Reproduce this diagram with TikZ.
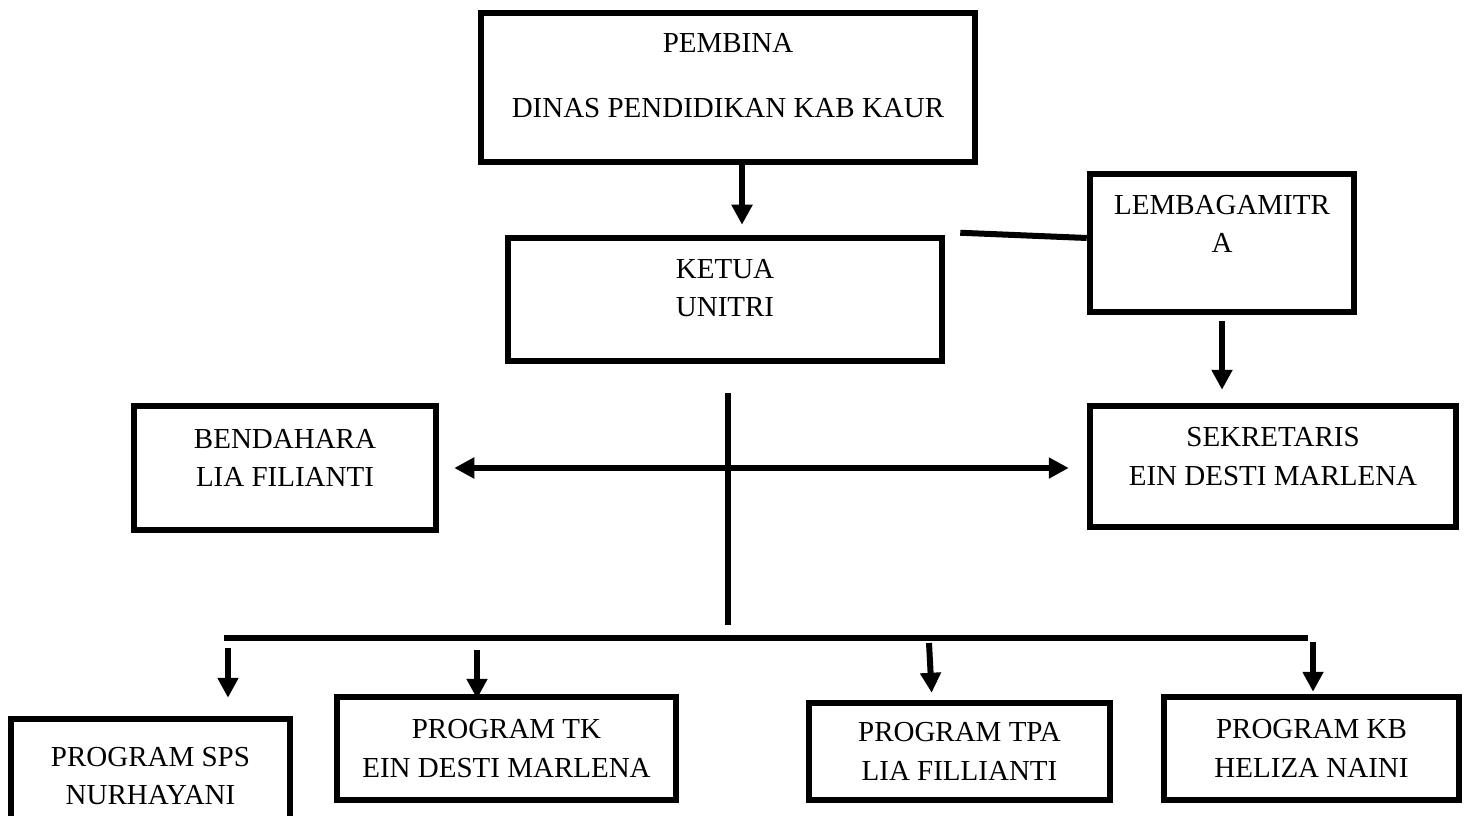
\documentclass[tikz,border=0pt]{standalone}
\usepackage{fontspec}
\setmainfont{Liberation Serif}
\usetikzlibrary{arrows.meta}

\begin{document}
\begin{tikzpicture}[
    box/.style={draw=black,line width=0.13cm,inner sep=0pt},
    txt/.style={align=center,inner sep=0pt,font=\fontsize{16.5}{22}\selectfont},
    conn/.style={black,line width=0.12cm},
    arr/.style={conn,-{Triangle[length=0.4cm,width=0.4cm]}},
    arrboth/.style={conn,{Triangle[length=0.4cm,width=0.4cm]}-{Triangle[length=0.4cm,width=0.4cm]}}
]
            \path[use as bounding box,fill=white] (0,0) rectangle (29.34,-16.32);

            % boxes
            \node[box,minimum width=9.88cm,minimum height=2.98cm] (pembina) at (14.56,-1.75) {};
            \node[txt] (pembinatxt) at ([yshift=0.24cm]pembina) {PEMBINA\\[15pt]DINAS PENDIDIKAN KAB KAUR};

            \node[box,minimum width=8.68cm,minimum height=2.46cm] (ketua) at (14.50,-5.99) {};
            \node[txt] (ketuatxt) at ([yshift=0.23cm]ketua) {KETUA\\UNITRI};

            \node[box,minimum width=5.28cm,minimum height=2.76cm] (lembaga) at (24.44,-4.86) {};
            \node[txt] (lembagatxt) at ([yshift=0.38cm]lembaga) {LEMBAGAMITR\\A};

            \node[box,minimum width=6.04cm,minimum height=2.48cm] (bendahara) at (5.70,-9.36) {};
            \node[txt] (bendaharatxt) at ([yshift=0.2cm]bendahara) {BENDAHARA\\LIA FILIANTI};

            \node[box,minimum width=7.32cm,minimum height=2.42cm] (sekretaris) at (25.46,-9.33) {};
            \node[txt] (sekretaristxt) at ([yshift=0.2cm]sekretaris) {SEKRETARIS\\EIN DESTI MARLENA};

            \node[box,minimum width=5.58cm,minimum height=2.12cm] (sps) at (3.01,-15.44) {};
            \node[txt] (spstxt) at ([yshift=-0.08cm]sps) {PROGRAM SPS\\NURHAYANI};

            \node[box,minimum width=6.78cm,minimum height=2.06cm] (tk) at (10.13,-14.97) {};
            \node[txt] (tktxt) at (tk) {PROGRAM TK\\EIN DESTI MARLENA};

            \node[box,minimum width=6.02cm,minimum height=1.94cm] (tpa) at (19.19,-15.03) {};
            \node[txt] (tpatxt) at (tpa) {PROGRAM TPA\\LIA FILLIANTI};

            \node[box,minimum width=5.90cm,minimum height=2.06cm] (kb) at (26.23,-14.97) {};
            \node[txt] (kbtxt) at (kb) {PROGRAM KB\\HELIZA NAINI};

            % top part
            \draw[arr,shorten >=0.2cm] ([xshift=0.28cm]pembina.south) -- ([xshift=0.28cm]pembina.south |- ketua.north);
            \draw[conn] ([xshift=0.3cm,yshift=0.04cm]ketua.north east) -- ([yshift=0.1cm]lembaga.west);
            \draw[arr,shorten <=0.12cm,shorten >=0.26cm] (lembaga.south) -- (lembaga.south |- sekretaris.north);

            % middle
            \coordinate (vtop) at (14.56,-7.86);
            \coordinate (vbot) at (14.56,-12.5);
            \draw[conn,line width=0.11cm] (vtop) -- (vbot);
            \draw[arrboth] ([xshift=0.3cm]bendahara.east) -- ([xshift=-0.36cm]sekretaris.west |- bendahara.east);

            % programs
            \coordinate (busl) at (4.48,-12.76);
            \coordinate (busr) at (26.16,-12.76);
            \draw[conn,line width=0.13cm] (busl) -- (busr);
            \coordinate (tsps) at (4.56,-12.96);
            \coordinate (ttk) at (9.54,-13.0);
            \coordinate (ttpa) at (18.58,-12.86);
            \coordinate (tkb) at (26.26,-12.84);
            \draw[arr,shorten >=0.36cm] (tsps) -- (tsps |- sps.north);
            \draw[arr,shorten >=-0.1cm] (ttk) -- (ttk |- tk.north);
            \draw[arr,shorten >=0.14cm] (ttpa) -- ([xshift=0.06cm]ttpa |- tpa.north);
            \draw[arr,shorten >=0.04cm] (tkb) -- (tkb |- kb.north);
\end{tikzpicture}
\end{document}
